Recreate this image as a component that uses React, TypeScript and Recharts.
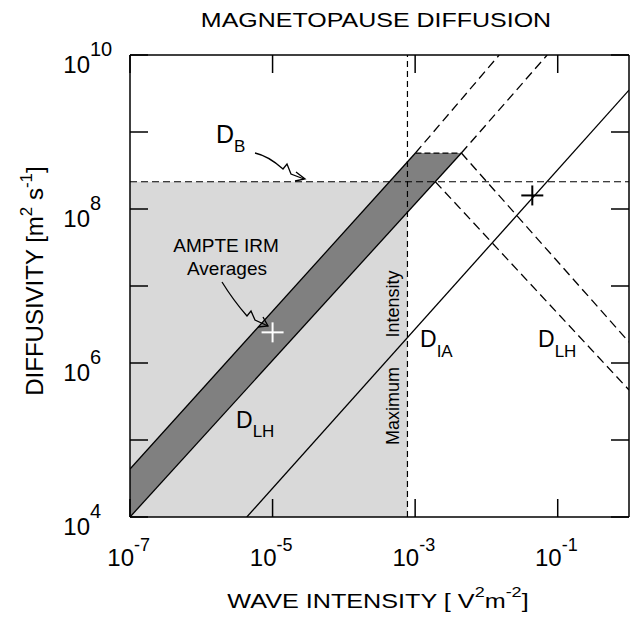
import React from 'react';
import { ComposedChart, XAxis, YAxis, Line, Area, Scatter } from 'recharts';

const FONT = '"Liberation Sans", Arial, Helvetica, sans-serif';

// axis ticks
const xTicks = [1e-7, 1e-5, 1e-3, 1e-1];
const yTicks = [1e4, 1e5, 1e6, 1e7, 1e8, 1e9, 1e10];

// Bohm level (D_B) and maximum intensity box
const dbLevel = 2.26e8;
const maxIntensity = 7.8e-4;
const maxBox = [
  { x: 1e-7, y: [1e4, dbLevel] },
  { x: maxIntensity, y: [1e4, dbLevel] },
];
const dbLine = [{ x: 1e-7, y: dbLevel }, { x: 1, y: dbLevel }];
const maxLine = [{ x: maxIntensity, y: 1e4 }, { x: maxIntensity, y: 1e10 }];

// AMPTE IRM band
const ampteBand = [
  { x: 1e-7, y: [1e4, 4.2e4] },
  { x: 1.01e-3, y: [1.18e8, 5.33e8] },
  { x: 4.45e-3, y: [5.33e8, 5.33e8] },
];
const bandUpper = [{ x: 1e-7, y: 4.2e4 }, { x: 1.01e-3, y: 5.33e8 }];
const bandUpperExt = [{ x: 1.01e-3, y: 5.33e8 }, { x: 0.0151, y: 1e10 }];
const bandLower = [{ x: 1e-7, y: 1e4 }, { x: 4.45e-3, y: 5.33e8 }];
const bandLowerExt = [{ x: 4.45e-3, y: 5.33e8 }, { x: 0.0711, y: 1e10 }];
const bandTop = [{ x: 1.01e-3, y: 5.33e8 }, { x: 4.45e-3, y: 5.33e8 }];

// other diffusion curves
const dIA = [{ x: 4.35e-6, y: 1e4 }, { x: 1, y: 3.5e9 }];
const dLHa = [{ x: 1.92e-3, y: dbLevel }, { x: 1, y: 4.46e5 }];
const dLHb = [{ x: 4.45e-3, y: 5.33e8 }, { x: 1, y: 1.87e6 }];

// points
const ampteAvg = [{ x: 1e-5, y: 2.5e6 }];
const otherPoint = [{ x: 0.044, y: 1.5e8 }];

const XTick = (props: any) => {
  const { x, y, payload } = props;
  const exp = Math.round(Math.log10(payload.value));
  const base = y + 67;
  return (
    <g>
      <text x={x + 4} y={base} textAnchor="end" fontSize={24} fontFamily={FONT} fill="#000">10</text>
      <text x={x + 4} y={base - 15} textAnchor="start" fontSize={18} fontFamily={FONT} fill="#000">{exp}</text>
    </g>
  );
};

const YTick = (props: any) => {
  const { x, y, payload } = props;
  const exp = Math.round(Math.log10(payload.value));
  if (exp % 2 !== 0) return <g />;
  return (
    <g>
      <text x={x - 58} y={y + 18} textAnchor="end" fontSize={24} fontFamily={FONT} fill="#000">10</text>
      <text x={x - 58} y={y + 1} textAnchor="start" fontSize={20} fontFamily={FONT} fill="#000">{exp}</text>
    </g>
  );
};

const Plus = ({ cx, cy, color }: any) => (
  <g stroke={color} strokeWidth={2}>
    <line x1={cx - 11} y1={cy} x2={cx + 11} y2={cy} />
    <line x1={cx} y1={cy - 10} x2={cx} y2={cy + 10} />
  </g>
);

const axisLine = { stroke: '#000', strokeWidth: 1.5 };
const lineProps = {
  xAxisId: 'b',
  yAxisId: 'l',
  dataKey: 'y',
  type: 'linear' as const,
  stroke: '#000',
  strokeWidth: 1.3,
  dot: false,
  activeDot: false,
  isAnimationActive: false,
};

export default function App() {
  return (
    <div style={{ position: 'absolute', left: 0, top: 0, width: 630, height: 623, background: '#fff' }}>
      <ComposedChart width={630} height={623} margin={{ top: 45, right: 0, bottom: 56, left: 70 }}>
        <XAxis xAxisId="b" type="number" dataKey="x" scale="log" domain={[1e-7, 1]} allowDataOverflow
          ticks={xTicks} interval={0} height={50} tickSize={-18} tickMargin={0}
          axisLine={axisLine} tickLine={axisLine} tick={XTick} />
        <XAxis xAxisId="t" orientation="top" type="number" dataKey="x" scale="log" domain={[1e-7, 1]} allowDataOverflow
          ticks={xTicks} interval={0} height={10} tickSize={-18}
          axisLine={axisLine} tickLine={axisLine} tick={() => <g />} />
        <YAxis yAxisId="l" type="number" dataKey="y" scale="log" domain={[1e4, 1e10]} allowDataOverflow
          ticks={yTicks} interval={0} width={60} tickSize={-18} tickMargin={0}
          axisLine={axisLine} tickLine={axisLine} tick={YTick} />
        <YAxis yAxisId="r" orientation="right" type="number" dataKey="y" scale="log" domain={[1e4, 1e10]} allowDataOverflow
          ticks={yTicks} interval={0} width={1} tickSize={-18}
          axisLine={axisLine} tickLine={axisLine} tick={() => <g />} />

        <Area data={maxBox} xAxisId="b" yAxisId="l" dataKey="y" type="linear" fill="#d9d9d9" fillOpacity={1}
          stroke="none" isAnimationActive={false} activeDot={false} />
        <Area data={ampteBand} xAxisId="b" yAxisId="l" dataKey="y" type="linear" fill="#808080" fillOpacity={1}
          stroke="none" isAnimationActive={false} activeDot={false} />

        <Line data={dbLine} {...lineProps} strokeWidth={1.2} strokeDasharray="7 4" />
        <Line data={maxLine} {...lineProps} strokeWidth={1.2} strokeDasharray="6 4" />
        <Line data={bandUpper} {...lineProps} />
        <Line data={bandLower} {...lineProps} />
        <Line data={bandTop} {...lineProps} strokeDasharray="6 3" />
        <Line data={bandUpperExt} {...lineProps} strokeDasharray="9 5" />
        <Line data={bandLowerExt} {...lineProps} strokeDasharray="9 5" />
        <Line data={dIA} {...lineProps} />
        <Line data={dLHa} {...lineProps} strokeDasharray="9 5" />
        <Line data={dLHb} {...lineProps} strokeDasharray="9 5" />

        <Scatter data={ampteAvg} xAxisId="b" yAxisId="l" dataKey="y" isAnimationActive={false}
          shape={(p: any) => <Plus cx={p.cx} cy={p.cy} color="#fff" />} />
        <Scatter data={otherPoint} xAxisId="b" yAxisId="l" dataKey="y" isAnimationActive={false}
          shape={(p: any) => <Plus cx={p.cx} cy={p.cy} color="#000" />} />
      </ComposedChart>

      <svg width={630} height={623} style={{ position: 'absolute', left: 0, top: 0, pointerEvents: 'none' }}
        fontFamily={FONT} fill="#000">
        <text transform="translate(376,27) scale(1.19,1)" textAnchor="middle" fontSize={21}>MAGNETOPAUSE DIFFUSION</text>

        <text transform="translate(378,608) scale(1.2,1)" textAnchor="middle" fontSize={21}>
          WAVE INTENSITY [ V<tspan dy={-11} fontSize={15}>2</tspan><tspan dy={11}>m</tspan>
          <tspan dy={-11} fontSize={15}>-2</tspan><tspan dy={11}>]</tspan>
        </text>

        <text transform="translate(43,281) rotate(-90)" textAnchor="middle" fontSize={24}>
          DIFFUSIVITY [m<tspan dy={-11} fontSize={17}>2</tspan><tspan dy={11}> s</tspan>
          <tspan dy={-11} fontSize={17}>-1</tspan><tspan dy={11}>]</tspan>
        </text>

        <text x={216} y={143} fontSize={25}>D<tspan dy={9} fontSize={17}>B</tspan></text>
        <text x={236} y={428} fontSize={23}>D<tspan dy={9} fontSize={17}>LH</tspan></text>
        <text x={420} y={347} fontSize={23}>D<tspan dy={10} fontSize={17}>IA</tspan></text>
        <text x={538} y={347} fontSize={23}>D<tspan dy={10} fontSize={17}>LH</tspan></text>

        <text x={226} y={252} textAnchor="middle" fontSize={19}>AMPTE IRM</text>
        <text x={227} y={275} textAnchor="middle" fontSize={19}>Averages</text>

        <text transform="translate(399,406) rotate(-90)" textAnchor="middle" fontSize={18}>Maximum</text>
        <text transform="translate(399,304) rotate(-90)" textAnchor="middle" fontSize={18}>Intensity</text>

        <g fill="none" stroke="#000" strokeWidth={1.3}>
          <path d="M255,153 C264,155 273,160 283,169 L287,164 L291,174 L304,179" />
          <path d="M296,172 L305,179 L295,181" />
          <path d="M222,282 C230,295 240,308 247,316 L251,311 L255,320 L268,326" />
          <path d="M263,317 L268,326 L258,327" />
        </g>
      </svg>
    </div>
  );
}
